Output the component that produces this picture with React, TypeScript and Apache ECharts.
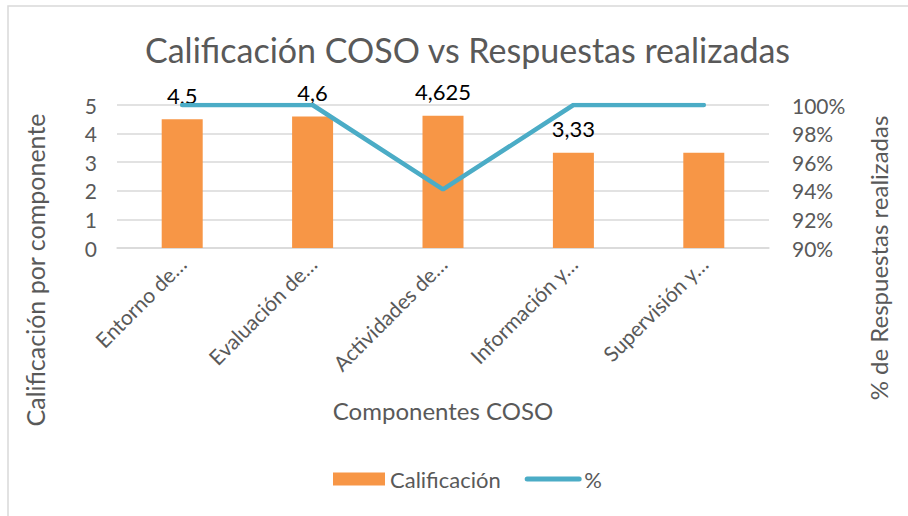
import React, { useEffect, useRef } from "react";
import * as echarts from "echarts";

const categories = ["Entorno de…", "Evaluación de…", "Actividades de…", "Información y…", "Supervisión y…"];
const calificacion = [4.5, 4.6, 4.625, 3.33, 3.33];
const calificacionLabels = ["4,5", "4,6", "4,625", "3,33", ""];
const porcentaje = [100, 100, 94.1, 100, 100];

const FONT = "Lato, 'Open Sans', sans-serif";
const GRAY = "#595959";

export default function App() {
  const ref = useRef<HTMLDivElement>(null);
  useEffect(() => {
    const chart = echarts.init(ref.current!, null, { renderer: "svg" });
    chart.setOption({
      animation: false,
      textStyle: { fontFamily: FONT },
      title: {
        text: "Calificación COSO vs Respuestas realizadas",
        left: 140,
        top: 27,
        textStyle: { fontSize: 34, fontWeight: "normal", color: GRAY, fontFamily: FONT },
      },
      graphic: [
        {
          type: "rect",
          shape: { x: 8, y: 6, width: 960, height: 560 },
          style: { fill: "none", stroke: "#d9d9d9", lineWidth: 1.5 },
          silent: true,
        },
        {
          type: "text",
          x: 35,
          y: 270,
          rotation: Math.PI / 2,
          style: {
            text: "Calificación por componente",
            fontSize: 25,
            fill: GRAY,
            fontFamily: FONT,
            align: "center",
            verticalAlign: "middle",
          },
          silent: true,
        },
        {
          type: "text",
          x: 878,
          y: 258,
          rotation: Math.PI / 2,
          style: {
            text: "% de Respuestas realizadas",
            fontSize: 24,
            fill: GRAY,
            fontFamily: FONT,
            align: "center",
            verticalAlign: "middle",
          },
          silent: true,
        },
      ],
      legend: {
        left: 328,
        top: 463,
        itemWidth: 52,
        itemHeight: 13,
        itemGap: 24,
        textStyle: { fontSize: 22, color: GRAY, fontFamily: FONT },
        data: [
          { name: "Calificación", icon: "rect" },
          {
            name: "%",
            itemStyle: { color: "rgba(0,0,0,0)", borderWidth: 0, opacity: 0 },
            lineStyle: { color: "#4BACC6", width: 5, cap: "round", opacity: 1 },
          },
        ],
      },
      grid: { left: 117, right: 139, top: 105, bottom: 268 },
      xAxis: {
        type: "category",
        data: categories,
        name: "Componentes COSO",
        nameLocation: "middle",
        nameGap: 150,
        nameTextStyle: { fontSize: 24, color: GRAY, fontFamily: FONT },
        axisLine: { lineStyle: { color: "#d9d9d9", width: 1.5 } },
        axisTick: { show: false },
        axisLabel: { rotate: 45, fontSize: 21, color: GRAY, margin: 12, fontFamily: FONT },
      },
      yAxis: [
        {
          type: "value",
          min: 0,
          max: 5,
          interval: 1,
          axisLabel: { fontSize: 21, color: GRAY, margin: 20, fontFamily: FONT },
          axisLine: { show: false },
          axisTick: { show: false },
          splitLine: { lineStyle: { color: "#d9d9d9", width: 1.5 } },
        },
        {
          type: "value",
          min: 90,
          max: 100,
          interval: 2,
          axisLabel: { fontSize: 21, color: GRAY, margin: 23, fontFamily: FONT, formatter: (v: number) => `${v}%` },
          axisLine: { show: false },
          axisTick: { show: false },
          splitLine: { show: false },
        },
      ],
      series: [
        {
          name: "Calificación",
          type: "bar",
          yAxisIndex: 0,
          barWidth: 41,
          itemStyle: { color: "#F79646" },
          data: calificacion.map((v, i) => ({
            value: v,
            label: {
              show: calificacionLabels[i] !== "",
              position: "top",
              distance: 13,
              formatter: () => calificacionLabels[i],
              fontSize: 22,
              color: "#000",
              fontFamily: FONT,
            },
          })),
        },
        {
          name: "%",
          type: "line",
          yAxisIndex: 1,
          symbol: "none",
          lineStyle: { color: "#4BACC6", width: 4.5, cap: "round" },
          itemStyle: { color: "#4BACC6" },
          data: porcentaje,
          z: 3,
        },
      ],
    });
    return () => chart.dispose();
  }, []);
  return <div ref={ref} style={{ position: "fixed", left: 0, top: 0, width: 908, height: 516, background: "#fff" }} />;
}
